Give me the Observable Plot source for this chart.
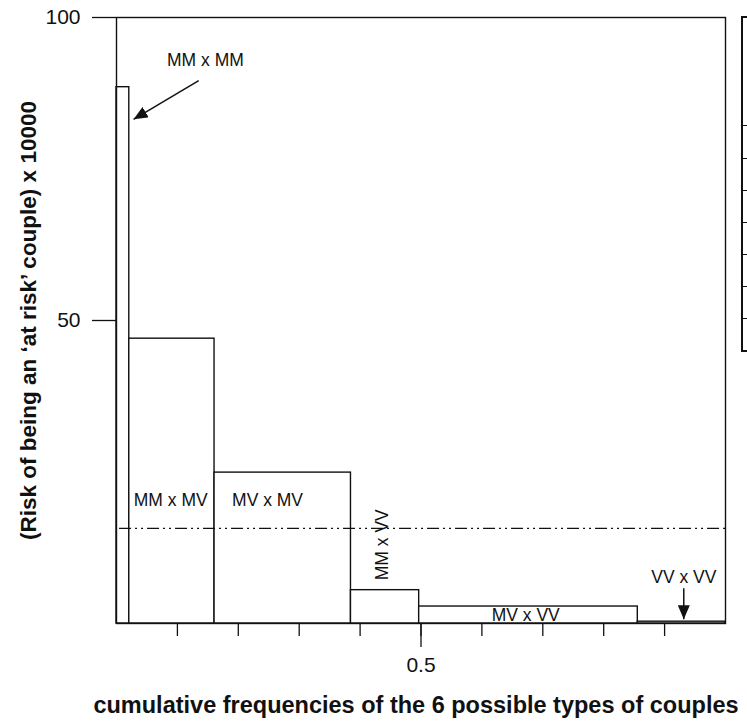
<!DOCTYPE html>
<html>
<head>
<meta charset="utf-8">
<script src="https://cdn.jsdelivr.net/npm/d3@7"></script>
<script src="https://cdn.jsdelivr.net/npm/@observablehq/plot@0.6"></script>
<style>
  html, body { margin: 0; padding: 0; background: white; overflow: hidden; }
  #wrap { position: relative; width: 747px; height: 723px; }
  #tbl { position: absolute; left: 741px; top: 16px; width: 40px; border: 2px solid #111; border-right: none; box-sizing: border-box; }
  #tbl div { border-top: 1.5px solid #111; height: 32px; box-sizing: border-box; }
  #tbl div.head { border-top: none; height: 108px; border-bottom: 1.5px solid #111; }
  #tbl div.head + div { border-top: none; }
</style>
</head>
<body>
<div id="wrap"></div>
<script>
// Data
const types = ["MM x MM", "MM x MV", "MV x MV", "MM x VV", "MV x VV", "VV x VV"];
const freqs = [0.021, 0.140, 0.224, 0.112, 0.359, 0.144];   // widths (frequency of each couple type)
const risks = [88.5, 47.0, 24.9, 5.5, 2.8, 0.3];            // risk x 10000
const meanRisk = 15.7;

const xMinorTicks = [0.1, 0.2, 0.3, 0.4, 0.5, 0.6, 0.7, 0.8, 0.9];
const xMajorTicks = [0.5];
const yTicks = [50, 100];

// Annotation labels (data coordinates)
const labelX = [0.146, 0.089, 0.248, 0.436, 0.672, 0.9315];
const labelY = [92.9, 20.3, 20.3, 13.0, 1.4, 7.6];
const labelRotate = [0, 0, 0, -90, 0, 0];

// Arrows (MM x MM and VV x VV)
const arrowX1 = [0.135, 0.9315];
const arrowY1 = [89.6, 5.8];
const arrowX2 = [0.028, 0.9315];
const arrowY2 = [83.2, 0.7];

const ends = Array.from(d3.cumsum(freqs));
const bars = types.map((t, i) => ({type: t, x1: i === 0 ? 0 : ends[i - 1], x2: ends[i], risk: risks[i]}));
const labels = types.map((t, i) => ({text: t, x: labelX[i], y: labelY[i], rotate: labelRotate[i]}));
const arrows = arrowX1.map((_, i) => ({x1: arrowX1[i], y1: arrowY1[i], x2: arrowX2[i], y2: arrowY2[i]}));

const font = "'Liberation Sans', Arial, Helvetica, sans-serif";

const chart = Plot.plot({
  width: 747,
  height: 723,
  marginTop: 17,
  marginBottom: 100,
  marginLeft: 116,
  marginRight: 22,
  style: {fontFamily: font, fontSize: "17px", background: "white", color: "#111"},
  x: {domain: [0, 1]},
  y: {domain: [0, 100]},
  marks: [
    Plot.rect(bars, {x1: "x1", x2: "x2", y1: 0, y2: "risk", fill: "white", stroke: "#111", strokeWidth: 1.4}),
    Plot.ruleY([meanRisk], {x1: 0.005, x2: 1, stroke: "#111", strokeWidth: 1.4, strokeDasharray: "12,4,2,4,2,4"}),
    Plot.frame({stroke: "#111", strokeWidth: 1.4}),
    Plot.axisY({ticks: yTicks, tickSize: 24, tickPadding: 12, fontSize: 21, label: null, strokeWidth: 1.3}),
    Plot.axisX({ticks: xMinorTicks, tickSize: 13, tickFormat: () => "", label: null, strokeWidth: 1.3}),
    Plot.axisX({ticks: xMajorTicks, tickSize: 24, tickPadding: 10, fontSize: 21, tickFormat: d3.format(".1f"), label: null, strokeWidth: 1.3}),
    Plot.text(labels, {x: "x", y: "y", text: "text", rotate: "rotate", fontSize: 17.5, fill: "#111"}),
    Plot.link(arrows, {x1: "x1", y1: "y1", x2: "x2", y2: "y2", stroke: "#111", strokeWidth: 1.5}),
    Plot.text(["(Risk of being an \u2018at risk\u2019 couple) x 10000"], {frameAnchor: "left", textAnchor: "middle", lineAnchor: "middle", dx: -88, rotate: -90, fontSize: 22.5, fontWeight: "bold", fill: "#111"}),
    Plot.text(["cumulative frequencies of the 6 possible types of couples"], {frameAnchor: "bottom", textAnchor: "middle", lineAnchor: "middle", dy: 82, dx: -5, fontSize: 23.5, fontWeight: "bold", fill: "#111"})
  ]
});

// filled arrowheads on link ends
const svg = d3.select(chart);
const defs = svg.insert("defs", ":first-child");
defs.append("marker")
  .attr("id", "ahead")
  .attr("viewBox", "0 0 14 12")
  .attr("refX", 14).attr("refY", 6)
  .attr("markerUnits", "userSpaceOnUse")
  .attr("markerWidth", 14).attr("markerHeight", 12)
  .attr("orient", "auto")
  .append("path").attr("d", "M0,0 L14,6 L0,12 Z").attr("fill", "#111");
svg.selectAll("g[aria-label='link'] path").attr("marker-end", "url(#ahead)");

const wrap = document.getElementById("wrap");
wrap.appendChild(chart);

// cropped table at the right edge of the reference
const tbl = document.createElement("div");
tbl.id = "tbl";
const head = document.createElement("div"); head.className = "head"; tbl.appendChild(head);
for (let i = 0; i < 7; i++) tbl.appendChild(document.createElement("div"));
wrap.appendChild(tbl);
</script>
</body>
</html>
